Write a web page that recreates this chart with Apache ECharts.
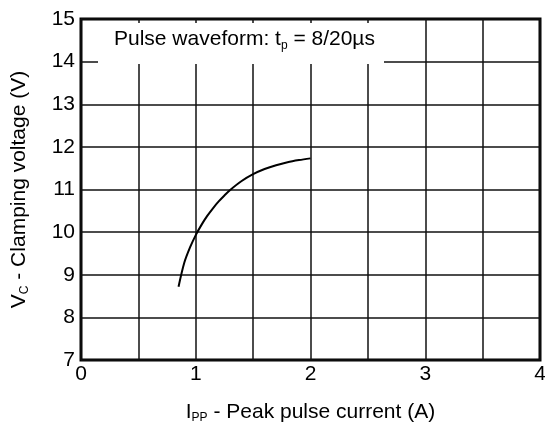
<!DOCTYPE html>
<html>
<head>
<meta charset="utf-8">
<script src="https://cdn.jsdelivr.net/npm/echarts@6/dist/echarts.min.js"></script>
<style>
html, body { margin: 0; padding: 0; background: #fff; }
#chart { width: 545px; height: 425px; }
</style>
</head>
<body>
<div id="chart"></div>
<script>
var currentA = [0.85, 0.9, 0.95, 1.0, 1.05, 1.1, 1.15, 1.2, 1.25, 1.3, 1.4, 1.5, 1.6, 1.7, 1.8, 1.9, 2.0];
var clampV = [8.72, 9.28, 9.64, 9.93, 10.17, 10.38, 10.56, 10.72, 10.86, 10.99, 11.20, 11.36, 11.48, 11.57, 11.64, 11.69, 11.73];
var xTicks = [0, 1, 2, 3, 4];

var font = 'Liberation Sans, Arial, sans-serif';
var myChart = echarts.init(document.getElementById('chart'));

var points = currentA.map(function (x, i) { return [x, clampV[i]]; });

var option = {
    animation: false,
    grid: {
        left: 81, right: 5, top: 19, bottom: 65,
        outerBoundsMode: 'none',
        show: true, borderColor: '#000', borderWidth: 3
    },
    xAxis: {
        type: 'value', min: 0, max: 4, interval: 0.5,
        axisLine: { show: false },
        axisTick: { show: false },
        splitLine: { lineStyle: { color: '#111', width: 1.5 } },
        axisLabel: {
            color: '#000', fontFamily: font, fontSize: 21, margin: 4,
            formatter: function (v) { return xTicks.indexOf(v) >= 0 ? String(v) : ''; }
        },
        name: '{n|I}{s|PP}{n| - Peak pulse current (A)}',
        nameLocation: 'middle', nameGap: 40,
        nameTextStyle: {
            rich: {
                n: { fontFamily: font, fontSize: 21, color: '#000' },
                s: { fontFamily: font, fontSize: 12, color: '#000', verticalAlign: 'bottom', padding: [12, 0, 0, 0] }
            }
        }
    },
    yAxis: {
        type: 'value', min: 7, max: 15, interval: 1,
        axisLine: { show: false },
        axisTick: { show: false },
        splitLine: { lineStyle: { color: '#111', width: 1.5 } },
        axisLabel: { color: '#000', fontFamily: font, fontSize: 21, margin: 6 },
        name: '{n|V}{s|C}{n| - Clamping voltage (V)}',
        nameLocation: 'middle', nameGap: 50,
        nameTextStyle: {
            rich: {
                n: { fontFamily: font, fontSize: 21, color: '#000' },
                s: { fontFamily: font, fontSize: 12, color: '#000', verticalAlign: 'bottom', padding: [12, 0, 0, 0] }
            }
        }
    },
    graphic: [
        {
            type: 'rect', z: 100,
            shape: { x: 98, y: 23, width: 286, height: 41 },
            style: { fill: '#fff' }
        },
        {
            type: 'text', z: 101, left: 114, top: 29,
            style: {
                text: '{n|Pulse waveform: t}{s|p}{n| = 8/20µs}',
                rich: {
                    n: { fontFamily: font, fontSize: 21, fill: '#000' },
                    s: { fontFamily: font, fontSize: 12, fill: '#000', verticalAlign: 'bottom', padding: [12, 0, 0, 0] }
                }
            }
        }
    ],
    series: [{
        type: 'line',
        data: points,
        smooth: 0.3,
        symbol: 'none',
        lineStyle: { color: '#000', width: 2 }
    }]
};
myChart.setOption(option);
</script>
</body>
</html>
